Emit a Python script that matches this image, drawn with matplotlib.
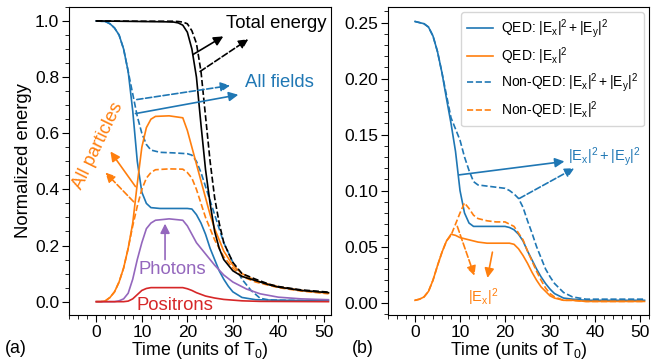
import matplotlib
matplotlib.use("Agg")
import matplotlib.pyplot as plt
from matplotlib.ticker import MultipleLocator

plt.rcParams['font.family'] = ['Liberation Sans', 'DejaVu Sans']
plt.rcParams['mathtext.fontset'] = 'custom'
plt.rcParams['mathtext.rm'] = 'Liberation Sans'
plt.rcParams['mathtext.it'] = 'Liberation Sans:italic'

# ---- panel (a): energies vs time ----
t_fields = [0, 2, 3, 4, 5, 6, 7, 8, 9, 10, 11, 12, 14, 17, 20, 21, 22, 23, 24, 25, 26, 27, 28, 29, 30, 32, 35, 40, 45, 51]
fields_qed = [1.0, 0.998, 0.99, 0.975, 0.95, 0.9, 0.82, 0.68, 0.5, 0.39, 0.35, 0.335, 0.332, 0.332, 0.332, 0.33, 0.31, 0.28, 0.24, 0.19, 0.15, 0.11, 0.08, 0.055, 0.035, 0.015, 0.007, 0.005, 0.004, 0.004]
t_fields_nq = [0, 2, 3, 4, 5, 6, 7, 8, 9, 10, 11, 12, 14, 17, 20, 21, 22, 23, 24, 25, 26, 27, 28, 30, 32, 34, 36, 38, 40, 45, 51]
fields_nqed = [1.0, 0.998, 0.99, 0.975, 0.95, 0.9, 0.82, 0.74, 0.66, 0.6, 0.56, 0.54, 0.532, 0.53, 0.527, 0.522, 0.5, 0.46, 0.41, 0.36, 0.31, 0.26, 0.21, 0.14, 0.08, 0.04, 0.012, 0.006, 0.005, 0.004, 0.004]

t_part = [0, 1, 2, 3, 4, 5, 6, 7, 8, 9, 10, 11, 12, 13, 16, 19, 20, 21, 22, 23, 24, 25, 26, 28, 30, 32, 35, 40, 45, 51]
part_qed = [0.0, 0.0, 0.003, 0.015, 0.035, 0.07, 0.12, 0.19, 0.28, 0.42, 0.55, 0.62, 0.65, 0.66, 0.662, 0.655, 0.61, 0.55, 0.49, 0.43, 0.37, 0.31, 0.26, 0.18, 0.13, 0.1, 0.075, 0.053, 0.04, 0.03]
part_nqed = [0.0, 0.0, 0.003, 0.015, 0.035, 0.07, 0.12, 0.19, 0.27, 0.34, 0.4, 0.44, 0.46, 0.47, 0.473, 0.472, 0.46, 0.44, 0.4, 0.35, 0.3, 0.26, 0.22, 0.16, 0.12, 0.09, 0.07, 0.05, 0.038, 0.028]

t_total = [0, 10, 15, 17, 18, 19, 20, 21, 22, 23, 24, 25, 26, 27, 28, 30, 32, 35, 38, 40, 45, 51]
total_qed = [1.0, 0.998, 0.997, 0.996, 0.993, 0.985, 0.96, 0.9, 0.8, 0.63, 0.47, 0.35, 0.25, 0.19, 0.15, 0.11, 0.09, 0.075, 0.06, 0.052, 0.04, 0.032]
total_nqed = [1.0, 0.999, 0.999, 0.999, 0.998, 0.996, 0.99, 0.965, 0.92, 0.82, 0.66, 0.5, 0.37, 0.28, 0.21, 0.14, 0.1, 0.08, 0.062, 0.054, 0.042, 0.034]

t_phot = [0, 4, 5, 6, 7, 8, 9, 10, 11, 12, 13, 16, 19, 20, 21, 22, 24, 26, 28, 30, 33, 36, 40, 45, 51]
photons = [0.0, 0.0, 0.003, 0.01, 0.03, 0.08, 0.15, 0.21, 0.26, 0.28, 0.29, 0.295, 0.29, 0.27, 0.24, 0.21, 0.17, 0.13, 0.095, 0.07, 0.045, 0.028, 0.016, 0.01, 0.007]

t_posi = [0, 6, 7, 8, 9, 10, 11, 12, 16, 19, 20, 21, 22, 24, 26, 28, 32, 36, 51]
positrons = [0.0, 0.0, 0.002, 0.01, 0.025, 0.04, 0.047, 0.05, 0.05, 0.05, 0.046, 0.04, 0.032, 0.02, 0.013, 0.008, 0.003, 0.001, 0.0]

# ---- panel (b): field components ----
t_b = [0, 1, 2, 3, 4, 5, 6, 7, 8, 9, 10, 11, 12, 13, 14, 16, 18, 20, 21, 22, 23, 24, 25, 26, 27, 28, 29, 30, 31, 33, 35, 38, 42, 51]
exey_qed = [0.251, 0.25, 0.249, 0.246, 0.238, 0.224, 0.205, 0.182, 0.16, 0.135, 0.1, 0.08, 0.071, 0.068, 0.068, 0.068, 0.068, 0.068, 0.067, 0.065, 0.061, 0.055, 0.046, 0.038, 0.03, 0.023, 0.017, 0.012, 0.008, 0.004, 0.003, 0.002, 0.002, 0.002]
exey_nqed = [0.251, 0.25, 0.249, 0.246, 0.238, 0.224, 0.205, 0.185, 0.165, 0.155, 0.145, 0.13, 0.118, 0.108, 0.105, 0.104, 0.103, 0.102, 0.1, 0.097, 0.093, 0.085, 0.073, 0.062, 0.05, 0.04, 0.03, 0.023, 0.017, 0.009, 0.005, 0.003, 0.003, 0.003]
ex_qed = [0.002, 0.003, 0.005, 0.01, 0.02, 0.033, 0.045, 0.055, 0.061, 0.06, 0.058, 0.057, 0.056, 0.055, 0.054, 0.053, 0.053, 0.053, 0.053, 0.052, 0.048, 0.042, 0.035, 0.027, 0.02, 0.014, 0.01, 0.006, 0.004, 0.002, 0.002, 0.001, 0.001, 0.001]
ex_nqed = [0.002, 0.003, 0.005, 0.01, 0.02, 0.033, 0.045, 0.055, 0.06, 0.07, 0.08, 0.089, 0.084, 0.078, 0.075, 0.073, 0.072, 0.072, 0.07, 0.068, 0.062, 0.056, 0.046, 0.037, 0.028, 0.02, 0.013, 0.008, 0.005, 0.002, 0.002, 0.001, 0.001, 0.001]

blue = '#1f77b4'
orange = '#ff7f0e'
purple = '#9467bd'
red = '#d62728'
lw = 1.2
fs = 13.3

fig = plt.figure(figsize=(6.51, 3.64), dpi=100)
axa = fig.add_axes([0.106, 0.135, 0.402, 0.846])
axb = fig.add_axes([0.596, 0.135, 0.401, 0.846])

axa.plot(t_fields, fields_qed, color=blue, lw=lw)
axa.plot(t_fields_nq, fields_nqed, color=blue, lw=lw, ls='--')
axa.plot(t_part, part_qed, color=orange, lw=lw)
axa.plot(t_part, part_nqed, color=orange, lw=lw, ls='--')
axa.plot(t_total, total_qed, color='black', lw=lw)
axa.plot(t_total, total_nqed, color='black', lw=lw, ls='--')
axa.plot(t_phot, photons, color=purple, lw=lw)
axa.plot(t_posi, positrons, color=red, lw=lw)

def arrow(ax, xy0, xy1, color, ls='-'):
    ax.annotate('', xy=xy1, xytext=xy0,
                arrowprops=dict(arrowstyle='-|>', color=color, lw=lw, ls=ls,
                                mutation_scale=14, shrinkA=0, shrinkB=0))

axa.text(39.5, 0.99, 'Total energy', fontsize=fs, ha='center', va='center')
arrow(axa, (21.2, 0.88), (27.9, 0.945), 'black')
arrow(axa, (22.8, 0.82), (33.4, 0.935), 'black', '--')
axa.text(40.3, 0.78, 'All fields', fontsize=fs, color=blue, ha='center', va='center')
arrow(axa, (8.9, 0.72), (29.4, 0.77), blue, '--')
arrow(axa, (8.6, 0.67), (31.2, 0.737), blue)
axa.text(0.3, 0.555, 'All particles', fontsize=fs, color=orange, ha='center', va='center', rotation=64)
arrow(axa, (8.6, 0.41), (3.1, 0.535), orange)
arrow(axa, (8.2, 0.356), (2.0, 0.46), orange, '--')
axa.text(16.7, 0.115, 'Photons', fontsize=fs, color=purple, ha='center', va='center')
arrow(axa, (15.1, 0.15), (15.1, 0.278), purple)
axa.text(17.2, -0.012, 'Positrons', fontsize=fs, color=red, ha='center', va='center')

axb.plot(t_b, exey_qed, color=blue, lw=lw, label=r'QED: $|\mathrm{E_x}|^2 + |\mathrm{E_y}|^2$')
axb.plot(t_b, ex_qed, color=orange, lw=lw, label=r'QED: $|\mathrm{E_x}|^2$')
axb.plot(t_b, exey_nqed, color=blue, lw=lw, ls='--', label=r'Non-QED: $|\mathrm{E_x}|^2 + |\mathrm{E_y}|^2$')
axb.plot(t_b, ex_nqed, color=orange, lw=lw, ls='--', label=r'Non-QED: $|\mathrm{E_x}|^2$')
axb.legend(loc='upper right', fontsize=10, frameon=True, edgecolor='#cccccc', handlelength=1.9,
           handletextpad=0.6, borderaxespad=0.35, labelspacing=0.35, borderpad=0.4)

axb.text(42, 0.13, r'$|\mathrm{E_x}|^2 + |\mathrm{E_y}|^2$', fontsize=10.5, color=blue, ha='center', va='center')
arrow(axb, (9.8, 0.114), (33.2, 0.126), blue)
arrow(axb, (23.2, 0.093), (35.4, 0.12), blue, '--')
axb.text(15.2, 0.005, r'$|\mathrm{E_x}|^2$', fontsize=10.5, color=orange, ha='center', va='center')
arrow(axb, (9.4, 0.068), (13.2, 0.024), orange, '--')
arrow(axb, (17.2, 0.045), (16.1, 0.022), orange)

axa.set_xlim(-6, 51.5)
axa.set_ylim(-0.047, 1.05)
axb.set_xlim(-6, 52)
axb.set_ylim(-0.011, 0.264)

for ax in (axa, axb):
    ax.xaxis.set_major_locator(MultipleLocator(10))
    ax.xaxis.set_minor_locator(MultipleLocator(2))
    ax.tick_params(which='major', direction='out', length=5, labelsize=12.5, pad=2)
    ax.tick_params(which='minor', direction='out', length=3)
    ax.set_xlabel(r'Time (units of T$_0$)', fontsize=12.8, labelpad=0)
axa.yaxis.set_major_locator(MultipleLocator(0.2))
axa.yaxis.set_minor_locator(MultipleLocator(0.05))
axb.yaxis.set_major_locator(MultipleLocator(0.05))
axb.yaxis.set_minor_locator(MultipleLocator(0.01))
axa.set_ylabel('Normalized energy', fontsize=13.3, labelpad=2)

fig.text(0.008, 0.03, '(a)', fontsize=12.8)
fig.text(0.54, 0.03, '(b)', fontsize=12.8)

fig.savefig('out.png', dpi=100)
